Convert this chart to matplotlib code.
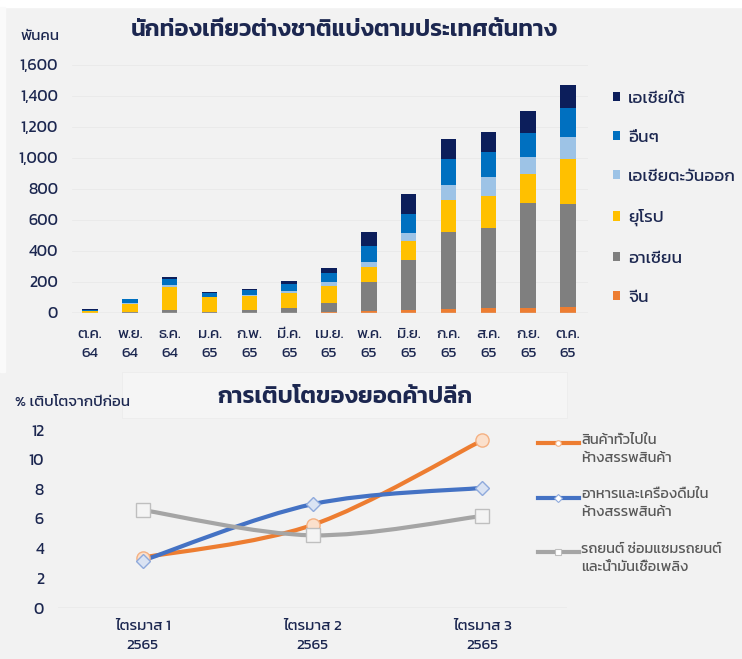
import matplotlib
matplotlib.use("Agg")
import matplotlib.pyplot as plt
import numpy as np
from matplotlib.path import Path
from matplotlib.patches import PathPatch, Rectangle
from matplotlib.lines import Line2D

plt.rcParams["font.family"] = ["Kanit", "DejaVu Sans"]

# ---- data: foreign tourists by origin (thousand persons) ----
months = ["ต.ค.\n64", "พ.ย.\n64", "ธ.ค.\n64", "ม.ค.\n65", "ก.พ.\n65", "มี.ค.\n65", "เม.ย.\n65",
          "พ.ค.\n65", "มิ.ย.\n65", "ก.ค.\n65", "ส.ค.\n65", "ก.ย.\n65", "ต.ค.\n65"]
china = [1, 1, 2, 1, 2, 3, 5, 11, 19, 28, 34, 30, 37]
asean = [2, 6, 15, 7, 15, 27, 58, 189, 323, 494, 516, 681, 664]
europe = [10, 53, 153, 93, 95, 101, 113, 99, 120, 205, 207, 184, 290]
east_asia = [3, 5, 11, 4, 4, 11, 22, 28, 56, 97, 122, 113, 146]
others = [5, 23, 40, 26, 34, 47, 60, 103, 118, 167, 157, 155, 183]
south_asia = [5, 4, 11, 4, 5, 17, 34, 90, 130, 129, 133, 140, 151]
tourist_labels = ["จีน", "อาเซียน", "ยุโรป", "เอเชียตะวันออก", "อื่นๆ", "เอเชียใต้"]

# ---- data: retail sales growth (% yoy) ----
quarters = ["ไตรมาส 1\n2565", "ไตรมาส 2\n2565", "ไตรมาส 3\n2565"]
general_goods = [3.4, 5.6, 11.3]
food_drink = [3.2, 7.0, 8.1]
auto_fuel = [6.6, 4.9, 6.2]
retail_labels = ["สินค้าทั่วไปใน\nห้างสรรพสินค้า", "อาหารและเครื่องดื่มใน\nห้างสรรพสินค้า",
                 "รถยนต์ ซ่อมแซมรถยนต์\nและน้ำมันเชื้อเพลิง"]

NAVY = "#1c2750"
W, H = 742, 659


def fx(px):
    return px / W


def fy(py):
    return 1 - py / H


fig = plt.figure(figsize=(W / 100, H / 100), dpi=100, facecolor="#f2f2f2")
fig.add_artist(Rectangle((0, fy(7)), 1, 7 / H, transform=fig.transFigure, color="white", zorder=0))
fig.add_artist(Rectangle((0, fy(372)), 5 / W, 365 / H, transform=fig.transFigure, color="#fafafa", zorder=0))

# ---------------- top: stacked bars ----------------
ax1 = fig.add_axes([fx(72), fy(313), fx(516), 248 / H])
ax1.set_facecolor("none")
x = np.arange(len(months))
series = [china, asean, europe, east_asia, others, south_asia]
colors = ["#ed7d31", "#7f7f7f", "#ffc000", "#9dc3e6", "#0070c0", "#0c1e5b"]
bottom = np.zeros(len(months))
handles = []
for vals, col in zip(series, colors):
    h = ax1.bar(x, vals, 0.39, bottom=bottom, color=col, zorder=3)
    handles.append(h)
    bottom += np.array(vals)
ax1.set_xlim(-0.45, 12.5)
ax1.set_ylim(0, 1600)
ax1.set_yticks(range(0, 1601, 200))
ax1.set_yticklabels([f"{v:,}" for v in range(0, 1601, 200)])
ax1.set_xticks(x)
ax1.set_xticklabels(months, linespacing=1.6)
ax1.tick_params(axis="y", length=0, pad=10, labelsize=11.5, labelcolor=NAVY)
ax1.tick_params(axis="x", length=0, pad=11, labelsize=11, labelcolor=NAVY)
for s in ax1.spines.values():
    s.set_visible(False)
ax1.grid(axis="y", color="#e9e9e9", linewidth=0.6, zorder=0)
ax1.axhline(0, color="#d0d0d0", linewidth=1, zorder=4)
ax1.legend(handles[::-1], tourist_labels[::-1], loc="upper left",
           bbox_to_anchor=(fx(597), fy(76)), bbox_transform=fig.transFigure,
           frameon=False, fontsize=12.5, handlelength=0.45, handleheight=0.45,
           handletextpad=0.45, labelspacing=1.45, labelcolor=NAVY)

fig.text(fx(20), fy(36), "พันคน", fontsize=11, color=NAVY, va="center", ha="left")
fig.text(fx(344), fy(30), "นักท่องเที่ยวต่างชาติแบ่งตามประเทศต้นทาง", fontsize=17,
         fontweight="semibold", color=NAVY, ha="center", va="center")

# ---------------- bottom: smoothed lines ----------------
fig.add_artist(Rectangle((fx(122), fy(418)), fx(445), 46 / H, transform=fig.transFigure,
                         facecolor="#f5f5f5", edgecolor="#ececec", linewidth=0.6, zorder=0))
ax2 = fig.add_axes([fx(58), fy(608), fx(509), 178 / H])
ax2.set_facecolor("none")
xq = np.arange(len(quarters))


def smooth_path(xs, ys):
    # Catmull-Rom style bezier segments, like a spreadsheet "smoothed line"
    pts = np.column_stack([xs, ys]).astype(float)
    verts = [pts[0]]
    codes = [Path.MOVETO]
    n = len(pts)
    for i in range(n - 1):
        p_prev = pts[max(i - 1, 0)]
        p0, p1 = pts[i], pts[i + 1]
        p_next = pts[min(i + 2, n - 1)]
        c1 = p0 + (p1 - p_prev) / 6
        c2 = p1 - (p_next - p0) / 6
        verts += [c1, c2, p1]
        codes += [Path.CURVE4] * 3
    return Path(verts, codes)


line_styles = [
    (general_goods, "#ed7d31", "o", "#fbe0cc", "#f4b183"),
    (food_drink, "#4472c4", "D", "#dae3f3", "#8faadc"),
    (auto_fuel, "#a5a5a5", "s", "#f4f4f4", "#bfbfbf"),
]
for vals, col, mk, mfc, mec in line_styles:
    ax2.add_patch(PathPatch(smooth_path(xq, vals), facecolor="none", edgecolor=col,
                            linewidth=3.0, capstyle="round", zorder=3))
    ax2.plot(xq, vals, linestyle="none", marker=mk, markersize=9.5 if mk != "D" else 7.5,
             markerfacecolor=mfc, markeredgecolor=mec, markeredgewidth=1.0, zorder=4)
ax2.set_xlim(-0.5, 2.5)
ax2.set_ylim(0, 12)
ax2.set_yticks(range(0, 13, 2))
ax2.set_xticks(xq)
ax2.set_xticklabels(quarters, linespacing=1.55)
ax2.tick_params(axis="y", length=0, pad=10, labelsize=11.5, labelcolor=NAVY)
ax2.tick_params(axis="x", length=0, pad=9, labelsize=11, labelcolor=NAVY)
for s in ax2.spines.values():
    s.set_visible(False)
ax2.axhline(0, color="#d0d0d0", linewidth=1, zorder=2)

fig.text(fx(15), fy(403), "% เติบโตจากปีก่อน", fontsize=11, color=NAVY, va="center", ha="left")
fig.text(fx(345), fy(397), "การเติบโตของยอดค้าปลีก", fontsize=17, fontweight="semibold",
         color=NAVY, ha="center", va="center")

# manual legend so the handle sits on the first text line
for i, ((vals, col, mk, mfc, mec), lab) in enumerate(zip(line_styles, retail_labels)):
    y0 = 443 + i * 54.5
    fig.add_artist(Line2D([fx(538), fx(579)], [fy(y0), fy(y0)], color=col, linewidth=3.0,
                          transform=fig.transFigure))
    fig.add_artist(Line2D([fx(558)], [fy(y0)], marker="o" if mk == "o" else ("D" if mk == "D" else "s"),
                          markersize=4, markerfacecolor="white", markeredgecolor=mec,
                          markeredgewidth=0.8, linestyle="none", transform=fig.transFigure))
    fig.text(fx(581), fy(y0 - 9), lab, fontsize=10.5, color="#595959", ha="left", va="top",
             linespacing=1.5)

fig.savefig("out.png", dpi=100, facecolor=fig.get_facecolor())
